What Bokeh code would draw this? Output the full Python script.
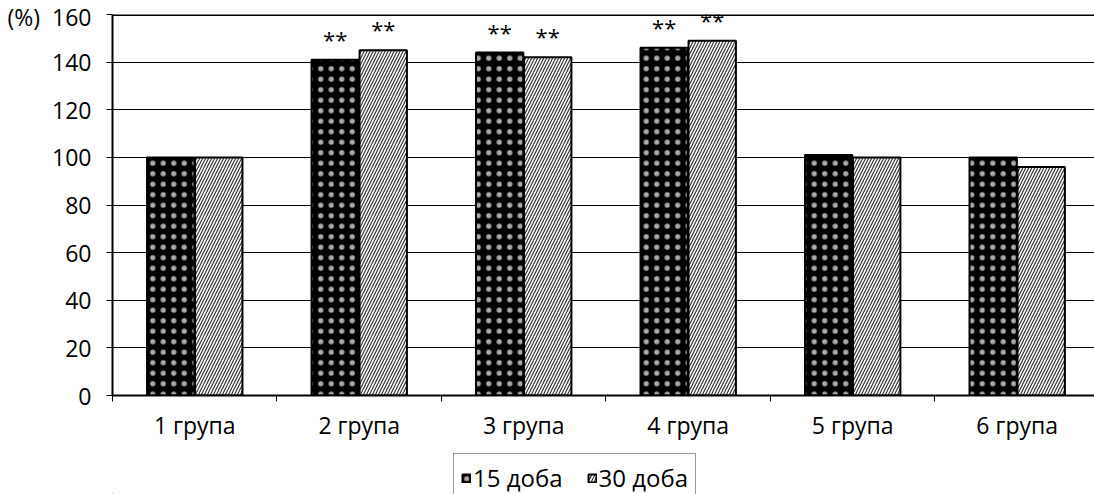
from bokeh.plotting import figure
from bokeh.models import ColumnDataSource, FixedTicker, Span, Legend, LegendItem
from bokeh.layouts import column
from bokeh.transform import dodge
from bokeh.core.properties import value
from bokeh.embed import file_html
from bokeh.resources import INLINE

groups = ["1 група", "2 група", "3 група", "4 група", "5 група", "6 група"]
day15 = [100, 141, 144, 146, 101, 100]
day30 = [100, 145, 142, 149, 100, 96]
marks15 = ["", "**", "**", "**", "", ""]
marks30 = ["", "**", "**", "**", "", ""]
series_names = ["15 доба", "30 доба"]
y_ticks = [0, 20, 40, 60, 80, 100, 120, 140, 160]
y_unit = "(%)"

FONT = "Open Sans"
FS = "23px"
centers = [i + 0.5 for i in range(len(groups))]
src = ColumnDataSource(dict(x=centers, d15=day15, d30=day30, m15=marks15, m30=marks30))

style15 = dict(fill_color="black", line_color="black", line_width=2,
               hatch_pattern="dot", hatch_color="#aaaaaa", hatch_scale=10.5, hatch_weight=1.3)
style30 = dict(fill_color="white", line_color="black", line_width=2,
               hatch_pattern="right_diagonal_line", hatch_color="#333333", hatch_scale=6, hatch_weight=1.2)

p = figure(width=1094, height=452, output_backend="svg", toolbar_location=None,
           x_range=(0, 5.97), y_range=(0, 160),
           min_border_left=112, min_border_right=0, min_border_top=14, min_border_bottom=57)
p.outline_line_color = None
p.background_fill_color = "white"
p.border_fill_color = "white"

off = 0.146
w = 0.288
p.vbar(x=dodge("x", -off), top="d15", width=w, source=src, **style15)
p.vbar(x=dodge("x", off), top="d30", width=w, source=src, **style30)

p.text(x=dodge("x", -off), y="d15", text="m15", source=src, text_align="center",
       text_baseline="alphabetic", y_offset=-21, text_font=value(FONT), text_font_size="22px",
       text_color="black")
p.text(x=dodge("x", off), y="d30", text="m30", source=src, text_align="center",
       text_baseline="alphabetic", y_offset=-21, text_font=value(FONT), text_font_size="22px",
       text_color="black")

# grid
p.xgrid.visible = False
p.ygrid.ticker = FixedTicker(ticks=y_ticks)
p.ygrid.grid_line_color = "black"
p.ygrid.grid_line_width = 1
p.ygrid.level = "underlay"
p.add_layout(Span(location=160, dimension="width", line_color="black", line_width=3))

# y axis
p.yaxis.ticker = FixedTicker(ticks=y_ticks)
p.yaxis.major_label_overrides = {y_ticks[-1]: y_unit + "\u00a0\u00a0" + str(y_ticks[-1])}
p.yaxis.axis_line_width = 2
p.yaxis.axis_line_color = "black"
p.yaxis.major_tick_out = 6
p.yaxis.major_tick_in = 0
p.yaxis.major_tick_line_color = "black"
p.yaxis.minor_tick_line_color = None
p.yaxis.major_label_standoff = 15
p.yaxis.major_label_text_font = FONT
p.yaxis.major_label_text_font_size = FS
p.yaxis.major_label_text_color = "black"

# x axis: labels at centres, ticks at boundaries
p.xaxis.ticker = FixedTicker(ticks=centers, minor_ticks=list(range(len(groups) + 1)))
p.xaxis.major_label_overrides = {c: g for c, g in zip(centers, groups)}
p.xaxis.axis_line_width = 2
p.xaxis.axis_line_color = "black"
p.xaxis.major_tick_out = 0
p.xaxis.major_tick_in = 0
p.xaxis.minor_tick_out = 6
p.xaxis.minor_tick_in = 0
p.xaxis.minor_tick_line_color = "black"
p.xaxis.minor_tick_line_width = 1
p.xaxis.major_label_standoff = 7
p.xaxis.major_label_text_font = FONT
p.xaxis.major_label_text_font_size = FS
p.xaxis.major_label_text_color = "black"

# legend strip below the chart
pl = figure(width=1094, height=42, output_backend="svg", toolbar_location=None,
            x_range=(0, 1), y_range=(0, 1), x_axis_type=None, y_axis_type=None,
            min_border=0)
pl.outline_line_color = None
pl.xgrid.visible = False
pl.ygrid.visible = False
dummy = ColumnDataSource(dict(x=[-5], top=[0]))  # off-range, only feeds the legend swatches
l1 = pl.vbar(x="x", top="top", width=0.1, source=dummy, **style15)
l2 = pl.vbar(x="x", top="top", width=0.1, source=dummy, **style30)
legend = Legend(items=[LegendItem(label=series_names[0], renderers=[l1]),
                       LegendItem(label=series_names[1], renderers=[l2])],
                location=(341, -8), orientation="horizontal",
                glyph_width=10, glyph_height=10, label_standoff=2, spacing=24,
                padding=7, margin=0,
                label_text_font=FONT, label_text_font_size="24px", label_text_color="black",
                border_line_color="#333333", border_line_width=1, background_fill_alpha=1)
pl.add_layout(legend, "center")

open("out.html", "w").write(file_html(column(p, pl, spacing=0), INLINE))
